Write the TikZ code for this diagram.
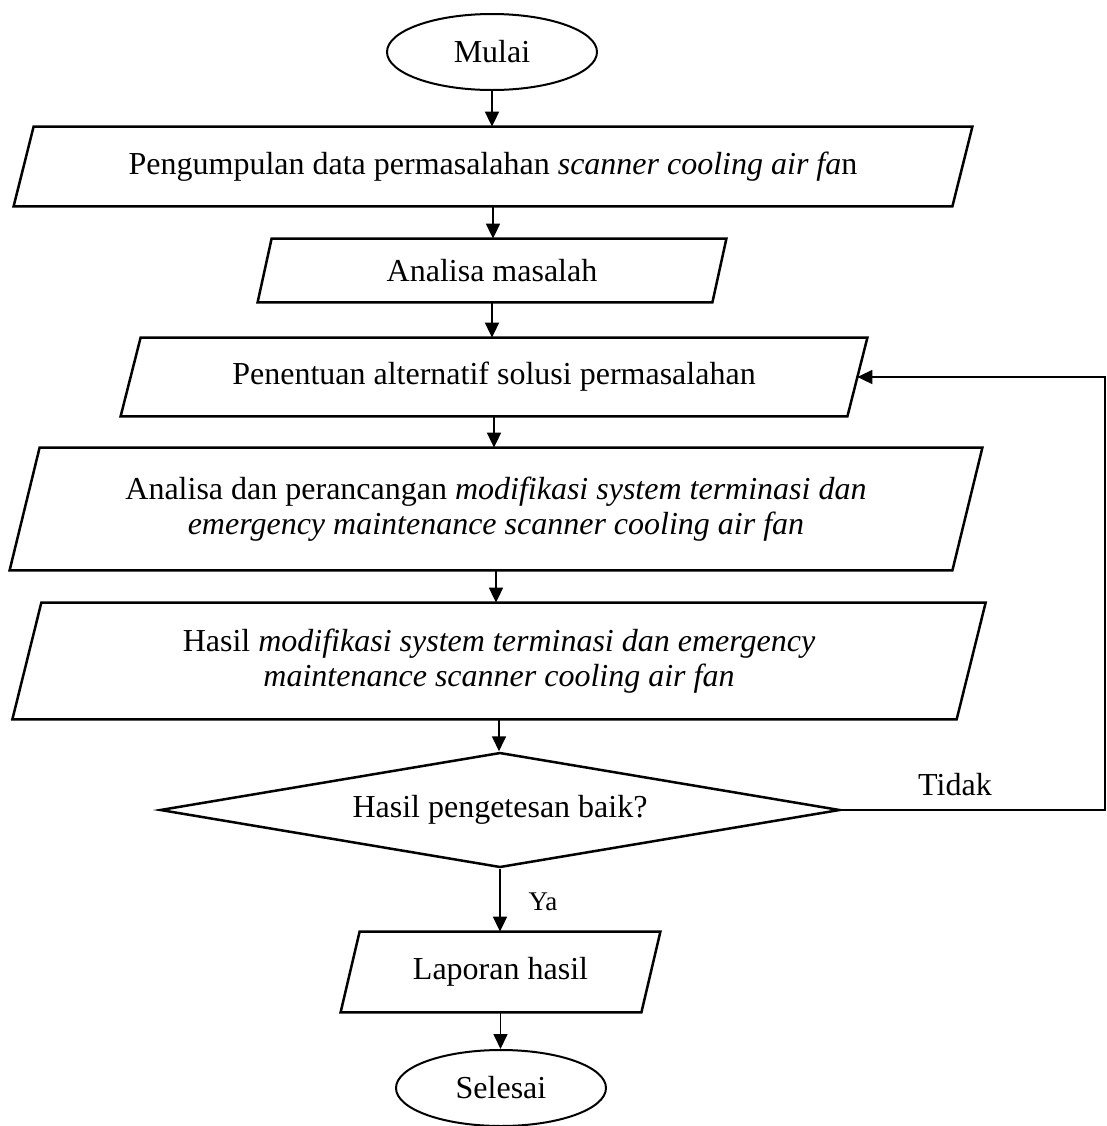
\documentclass[tikz,border=0pt]{standalone}
\usepackage{fontspec}
\setmainfont{Liberation Serif}
\usetikzlibrary{shapes.geometric,arrows.meta,calc}
\begin{document}
\begin{tikzpicture}[x=0.5pt,y=-0.5pt,
  txt/.style={inner sep=0pt, align=center, font=\fontsize{16}{17.5}\selectfont},
  term/.style={ellipse, draw, line width=1pt, inner sep=0pt, font=\fontsize{16}{17.5}\selectfont},
  boxline/.style={line width=1.25pt, line join=miter},
  arr/.style={line width=0.85pt, -{Triangle[length=7.5pt,width=7pt]}},
  dec/.style={diamond, draw, line width=1.25pt, inner sep=0pt, aspect=5.9, font=\fontsize{16}{17.5}\selectfont},
  lbl/.style={inner sep=0pt, font=\fontsize{16}{17.5}\selectfont}
]
\useasboundingbox (0,0) rectangle (1107,1126);

\node[term, minimum width=105pt, minimum height=38pt] (start) at (492,52) {Mulai};
\node[txt, minimum width=469pt, minimum height=39.5pt] (b1) at (493,166.5) {Pengumpulan data permasalahan \textit{scanner cooling air fa}n};
\node[txt, minimum width=227pt, minimum height=31.5pt] (b2) at (492,270.5) {Analisa masalah};
\node[txt, minimum width=363pt, minimum height=39pt] (b3) at (494,377) {Penentuan alternatif solusi permasalahan};
\node[txt, minimum width=471pt, minimum height=61pt] (b4) at (496,509) {Analisa dan perancangan \textit{modifikasi system terminasi dan}\\ \textit{emergency maintenance scanner cooling air fan}};
\node[txt, minimum width=471.75pt, minimum height=58pt] (b5) at (499,661) {Hasil \textit{modifikasi system terminasi dan emergency}\\ \textit{maintenance scanner cooling air fan}};
\node[dec, minimum width=340pt, minimum height=57.5pt] (d) at (500,810) {Hasil pengetesan baik?};
\node[txt, minimum width=150pt, minimum height=40pt] (b6) at (500.5,972) {Laporan hasil};
\node[term, minimum width=105pt, minimum height=38pt] (end) at (501,1088) {Selesai};

\foreach \n/\s in {b1/10, b2/7, b3/10, b4/15, b5/14.5, b6/9.5}
  \draw[boxline] ($(\n.north west)+(\s,0)$) -- ($(\n.north east)+(\s,0)$) -- ($(\n.south east)-(\s,0)$) -- ($(\n.south west)-(\s,0)$) -- cycle;

\draw[arr] (start.south) -- (start.south |- b1.north);
\draw[arr] (b1.south) -- (b1.south |- b2.north);
\draw[arr] (b2.south) -- (b2.south |- b3.north);
\draw[arr] (b3.south) -- (b3.south |- b4.north);
\draw[arr] (b4.south) -- (b4.south |- b5.north);
\draw[arr] (b5.south) -- (b5.south |- d.north);
\draw[arr] (d.south) -- (d.south |- b6.north);
\draw[arr] (b6.south) -- (b6.south |- end.north);

\coordinate (loopR) at (1105,600);
\draw[arr, line join=miter] (d.east) -- (d.east -| loopR) -- (b3.east -| loopR) -- (b3.east);

\node[lbl] (tidak) at (955,785) {Tidak};
\node[lbl, font=\fontsize{13.5}{15}\selectfont] (ya) at (543,902) {Ya};
\end{tikzpicture}
\end{document}
